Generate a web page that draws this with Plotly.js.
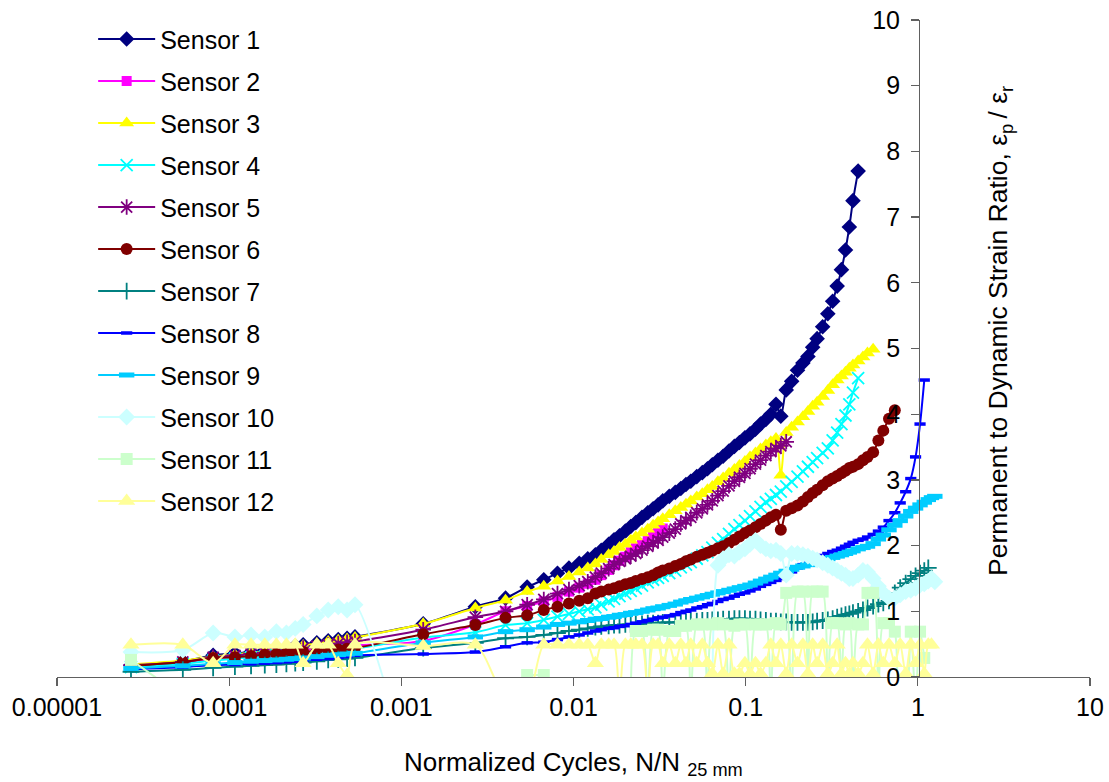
<!DOCTYPE html>
<html><head><meta charset="utf-8">
<script src="https://cdn.plot.ly/plotly-3.0.1.min.js"></script>
<style>html,body{margin:0;padding:0;background:#fff}#chart{width:1109px;height:782px}</style>
</head><body><div id="chart"></div>
<script>
// Normalized cycles N/N25mm (x values)
const xEarly = [2.69e-5, 5.38e-5, 8.07e-5, 1.08e-4, 1.34e-4, 1.61e-4, 1.88e-4, 2.15e-4, 2.42e-4, 2.69e-4,
  3.23e-4, 3.76e-4, 4.3e-4, 4.84e-4, 5.38e-4,
  0.00134, 0.00269, 0.00403, 0.00538, 0.00672, 0.00807, 0.00941, 0.0108, 0.0121, 0.0134];
const xMid = [0.0145, 0.016, 0.0172, 0.0185, 0.02, 0.0215, 0.023, 0.025, 0.027, 0.029,
  0.031, 0.033, 0.036, 0.039, 0.042, 0.045, 0.048, 0.052, 0.056, 0.06,
  0.064, 0.069, 0.074, 0.08, 0.086, 0.092, 0.099, 0.106, 0.114, 0.122,
  0.131, 0.14, 0.15, 0.16, 0.172, 0.185, 0.2, 0.215, 0.23, 0.245,
  0.26, 0.28, 0.3, 0.32, 0.34, 0.36, 0.38, 0.4, 0.42, 0.45,
  0.48, 0.51, 0.55, 0.59, 0.63, 0.68, 0.735, 0.79, 0.85, 0.91,
  0.97, 1.03, 1.09, 1.15, 1.2, 1.255];

const sensorNames = ['Sensor 1','Sensor 2','Sensor 3','Sensor 4','Sensor 5','Sensor 6',
  'Sensor 7','Sensor 8','Sensor 9','Sensor 10','Sensor 11','Sensor 12'];

// Permanent to dynamic strain ratio for each sensor (null = below the plotted range / no point)
const sensor1 = [0.18,0.24,0.33,0.36,0.38,0.41,0.43,0.45,0.47,0.49,
  0.52,0.55,0.57,0.59,0.61,
  0.81,1.07,1.20,1.37,1.48,1.58,1.66,1.73,1.80,1.86,
  1.93,2.02,2.09,2.15,2.22,2.29,2.35,2.43,2.50,2.56,
  2.62,2.68,2.75,2.81,2.87,2.93,2.98,3.05,3.11,3.17,
  3.23,3.30,3.36,3.44,3.51,3.57,3.64,3.70,3.77,3.85,
  3.92,4.00,4.15,3.97,4.37,4.50,4.67,4.78,4.88,5.02,
  5.15,5.33,5.53,5.72,5.95,6.20,6.50,6.85,7.25,7.70];
const sensor2 = [0.17,0.22,0.28,0.31,0.33,0.35,0.37,0.38,0.40,0.41,
  0.43,0.45,0.46,0.47,0.48,
  0.55,0.80,1.00,1.08,1.15,1.22,1.30,1.36,1.42,1.48,
  1.55,1.63,1.70,1.77,1.83,1.90,1.96,2.03,2.10,2.18,
  2.22,2.26];
const sensor3 = [0.19,0.25,0.31,0.34,0.37,0.39,0.41,0.44,0.46,0.48,
  0.51,0.54,0.56,0.58,0.60,
  0.81,1.05,1.17,1.30,1.38,1.46,1.53,1.60,1.66,1.72,
  1.79,1.86,1.91,1.97,2.02,2.08,2.13,2.19,2.25,2.31,
  2.36,2.41,2.47,2.53,2.58,2.63,2.68,2.74,2.79,2.85,
  2.90,2.97,3.03,3.10,3.16,3.22,3.28,3.35,3.41,3.47,
  3.53,3.58,3.63,3.07,3.72,3.80,3.88,3.96,4.04,4.12,
  4.18,4.27,4.36,4.45,4.52,4.58,4.64,4.70,4.75,4.81,
  4.87,4.93,4.99];
const sensor4 = [0.15,0.20,0.25,0.28,0.30,0.31,0.33,0.34,0.35,0.37,
  0.38,0.40,0.41,0.42,0.43,
  0.60,0.68,0.79,0.82,0.87,0.92,0.96,1.00,1.03,1.06,
  1.10,1.15,1.19,1.23,1.27,1.31,1.35,1.39,1.44,1.48,
  1.51,1.54,1.58,1.62,1.67,1.71,1.75,1.80,1.85,1.90,
  1.97,2.04,2.10,2.18,2.25,2.31,2.38,2.45,2.52,2.59,
  2.66,2.71,2.77,2.82,2.90,2.97,3.05,3.13,3.20,3.27,
  3.33,3.41,3.48,3.60,3.72,3.85,3.98,4.15,4.33,4.55];
const sensor5 = [0.18,0.23,0.30,0.33,0.35,0.37,0.39,0.41,0.43,0.44,
  0.47,0.49,0.51,0.53,0.54,
  0.72,0.91,1.00,1.10,1.18,1.27,1.33,1.39,1.45,1.52,
  1.58,1.65,1.71,1.76,1.80,1.84,1.88,1.93,1.99,2.04,
  2.08,2.13,2.19,2.25,2.33,2.38,2.43,2.50,2.56,2.62,
  2.68,2.76,2.83,2.91,2.98,3.04,3.10,3.17,3.24,3.30,
  3.37,3.43,3.48,3.52,3.58];
const sensor6 = [0.17,0.23,0.29,0.30,0.32,0.34,0.35,0.36,0.37,0.38,
  0.40,0.41,0.42,0.43,0.44,
  0.65,0.79,0.90,0.94,1.02,1.07,1.12,1.16,1.20,1.27,
  1.30,1.33,1.35,1.38,1.41,1.43,1.46,1.49,1.52,1.55,
  1.59,1.62,1.65,1.69,1.72,1.76,1.79,1.83,1.86,1.89,
  1.92,1.96,1.99,2.04,2.09,2.14,2.19,2.23,2.28,2.33,
  2.38,2.43,2.47,2.24,2.53,2.57,2.61,2.67,2.74,2.80,
  2.85,2.92,2.98,3.02,3.06,3.10,3.14,3.18,3.20,3.24,
  3.30,3.35,3.42,3.60,3.75,3.93,4.06];
const sensor7 = [0.08,0.11,0.14,0.16,0.17,0.18,0.19,0.20,0.21,0.22,
  0.24,0.26,0.27,0.28,0.29,
  0.44,0.52,0.59,0.61,0.64,0.67,0.70,0.72,0.74,0.76,
  0.77,0.78,0.79,0.79,0.80,0.80,0.81,0.81,0.82,0.82,
  0.82,0.83,0.83,0.83,0.84,0.84,0.85,0.85,0.86,0.86,
  0.87,0.87,0.88,0.88,0.89,0.89,0.89,0.88,0.88,0.87,
  0.86,0.85,0.85,0.84,0.84,0.83,0.83,0.83,0.83,0.84,
  0.85,0.86,0.87,0.89,0.91,0.93,0.95,0.96,0.98,1.00,
  1.02,1.05,1.08,1.11,1.13,1.16,1.28,1.36,1.43,1.49,
  1.54,1.58,1.62,1.66];
const sensor8 = [0.12,0.15,0.18,0.19,0.20,0.21,0.22,0.23,0.24,0.25,
  0.27,0.28,0.30,0.31,0.33,
  0.35,0.38,0.46,0.52,0.53,0.57,0.61,0.64,0.67,0.70,
  0.72,0.74,0.75,0.77,0.78,0.80,0.82,0.84,0.86,0.88,
  0.90,0.91,0.93,0.95,0.98,1.00,1.02,1.05,1.07,1.10,
  1.12,1.15,1.18,1.20,1.23,1.26,1.28,1.31,1.34,1.38,
  1.41,1.44,1.47,1.50,1.55,1.60,1.66,1.71,1.75,1.79,
  1.82,1.85,1.88,1.91,1.93,1.96,1.99,2.02,2.05,2.08,
  2.10,2.13,2.17,2.22,2.28,2.38,2.50,2.65,2.82,3.02,
  3.35,3.85,4.52];
const sensor9 = [0.13,0.17,0.20,0.22,0.24,0.25,0.26,0.27,0.28,0.29,
  0.31,0.33,0.34,0.35,0.36,
  0.52,0.61,0.69,0.72,0.76,0.80,0.82,0.84,0.86,0.88,
  0.89,0.91,0.92,0.94,0.95,0.97,0.98,1.00,1.02,1.04,
  1.05,1.07,1.09,1.11,1.14,1.16,1.18,1.20,1.22,1.24,
  1.26,1.28,1.30,1.32,1.34,1.36,1.38,1.40,1.43,1.46,
  1.49,1.52,1.55,1.58,1.61,1.64,1.67,1.69,1.71,1.73,
  1.75,1.77,1.80,1.82,1.84,1.86,1.88,1.90,1.92,1.95,
  1.97,1.99,2.03,2.10,2.16,2.24,2.31,2.38,2.45,2.52,
  2.57,2.62,2.66,2.70,2.73,2.75];
const sensor10 = [0.38,0.41,0.67,0.61,0.64,0.61,0.69,0.67,0.74,0.80,
  0.93,1.02,1.07,1.02,1.10,
  -2.2,null,null,null,null,null,null,null,null,null,
  null,null,null,null,null,null,null,null,null,null,
  null,null,null,null,null,null,null,null,null,null,
  -2.2,1.70,1.80,1.86,1.84,1.90,1.95,2.02,2.08,2.00,
  1.95,1.92,1.93,1.88,1.55,1.88,1.88,1.86,1.84,1.81,
  1.78,1.74,1.70,1.66,1.62,1.58,1.55,1.50,1.50,1.55,
  1.62,1.60,1.50,1.38,1.28,1.20,1.20,1.25,1.30,1.32,
  1.35,1.40,1.42,1.46,1.50,1.45];
const sensor11 = [0.26,-0.3,null,null,null,null,null,null,null,null,
  null,null,null,null,null,
  null,null,null,0.03,0.03,null,null,null,null,null,
  null,null,null,null,null,-0.5,0.70,0.70,-0.3,0.72,
  0.72,-0.3,0.70,0.70,0.78,0.78,-0.3,0.80,0.80,-0.3,
  0.80,0.82,0.80,-0.3,0.78,0.80,0.80,-0.3,0.80,0.80,
  0.80,-0.3,0.82,0.80,1.28,-0.3,1.30,1.30,-0.3,1.30,
  1.30,1.30,-0.3,0.82,0.82,-0.3,0.80,0.82,-0.3,0.80,
  0.80,1.28,1.28,-0.3,0.82,0.82,0.69,-0.3,-0.3,0.69,
  -0.3,0.69,0.29];
const sensor12 = [0.49,0.49,0.21,0.49,0.49,0.49,0.49,0.49,0.49,0.21,
  0.49,0.49,0.21,0.03,0.49,
  0.47,0.49,-0.3,-0.3,0.49,0.49,0.49,0.49,0.49,0.21,
  0.49,0.49,0.49,-0.3,0.49,0.49,0.49,0.49,-0.3,0.49,
  0.49,0.21,0.49,0.21,0.49,0.21,0.49,0.21,0.49,0.21,
  0.05,0.49,0.05,0.49,0.05,0.05,0.21,0.05,0.21,0.05,
  0.21,0.49,0.21,0.49,0.05,0.49,0.21,0.49,0.05,0.49,
  0.21,0.49,0.05,0.21,0.49,0.05,0.21,0.05,0.21,0.05,
  0.21,0.49,0.05,0.49,0.21,0.49,0.21,0.49,0.05,0.49,
  0.21,0.49,0.05,0.49,0.49];

const xTickVals = [0.00001, 0.0001, 0.001, 0.01, 0.1, 1, 10];
const xTickText = ['0.00001','0.0001','0.001','0.01','0.1','1','10'];
const yTickVals = [0,1,2,3,4,5,6,7,8,9,10];

const xAll = xEarly.concat(xMid);
const seriesY = [sensor1,sensor2,sensor3,sensor4,sensor5,sensor6,sensor7,sensor8,sensor9,sensor10,sensor11,sensor12];

// styles
const colors = ['#000080','#FF00FF','#FFFF00','#00FFFF','#800080','#800000','#008080','#0000FF','#00CCFF','#CCFFFF','#CCFFCC','#FFFF99'];
const markers = [
  {symbol:'diamond', size:12},
  {symbol:'square', size:10},
  {symbol:'triangle-up', size:13},
  {symbol:'x-thin', size:12, lw:1.8},
  {symbol:'asterisk', size:13, lw:1.8},
  {symbol:'circle', size:12},
  {symbol:'cross-thin', size:12, lw:1.8},
  {symbol:'line-ew', size:8, lw:3.5},
  {symbol:'line-ew', size:11, lw:5},
  {symbol:'diamond', size:13},
  {symbol:'square', size:12},
  {symbol:'triangle-up', size:15}
];

const FONT = 'Liberation Sans, Arial, sans-serif';
const traces = seriesY.map((ys, i) => {
  const m = markers[i];
  const mk = {symbol: m.symbol, size: m.size, color: colors[i]};
  if (m.lw) mk.line = {color: colors[i], width: m.lw};
  else mk.line = {width: 0};
  return {
    type: 'scatter', mode: 'lines+markers', name: sensorNames[i],
    legendgroup: 'g' + i,
    x: xAll.slice(0, ys.length), y: ys,
    line: {color: colors[i], width: 2, shape: 'spline', smoothing: 0.8},
    marker: mk, connectgaps: false
  };
});

const layout = {
  width: 1109, height: 782,
  margin: {l: 57, r: 19, t: 20, b: 105},
  paper_bgcolor: '#fff', plot_bgcolor: '#fff',
  font: {family: FONT, size: 25, color: '#000'},
  showlegend: true,
  legend: {x: 0.035, y: 1.0056, xanchor: 'left', yanchor: 'top', bgcolor: 'rgba(0,0,0,0)',
           font: {family: FONT, size: 25, color: '#000'}, traceorder: 'grouped', tracegroupgap: 6.5,
           itemwidth: 57, maxheight: 700},
  xaxis: {type: 'log', range: [-5, 1], tickmode: 'array', tickvals: xTickVals, ticktext: xTickText,
          showgrid: false, zeroline: false, showline: true, linecolor: '#606060', linewidth: 1.3,
          ticks: 'outside', ticklen: 8, tickwidth: 1.3, tickcolor: '#606060',
          tickfont: {family: FONT, size: 25, color: '#000'}, anchor: 'y'},
  yaxis: {range: [0, 10], tickmode: 'array', tickvals: yTickVals, showgrid: false, zeroline: false,
          showline: true, linecolor: '#606060', linewidth: 1.3, anchor: 'free', position: 0.8345,
          side: 'left', ticks: 'outside', ticklen: 8, tickwidth: 1.3, tickcolor: '#606060',
          ticklabelstandoff: 6,
          tickfont: {family: FONT, size: 25, color: '#000'}},
  annotations: [
    {text: 'Normalized Cycles, N/N <sub>25 mm</sub>', xref: 'paper', yref: 'paper', x: 0.5, y: -0.131,
     xanchor: 'center', yanchor: 'middle', showarrow: false, font: {family: FONT, size: 26, color: '#000'}},
    {text: 'Permanent to Dynamic Strain Ratio, ε<sub>p </sub>/ ε<sub>r</sub>', xref: 'paper', yref: 'paper',
     x: 0.913, y: 0.527, xanchor: 'center', yanchor: 'middle', textangle: -90, showarrow: false,
     font: {family: FONT, size: 26.5, color: '#000'}}
  ]
};

Plotly.newPlot('chart', traces, layout, {staticPlot: true, displayModeBar: false});
</script>
</body></html>
